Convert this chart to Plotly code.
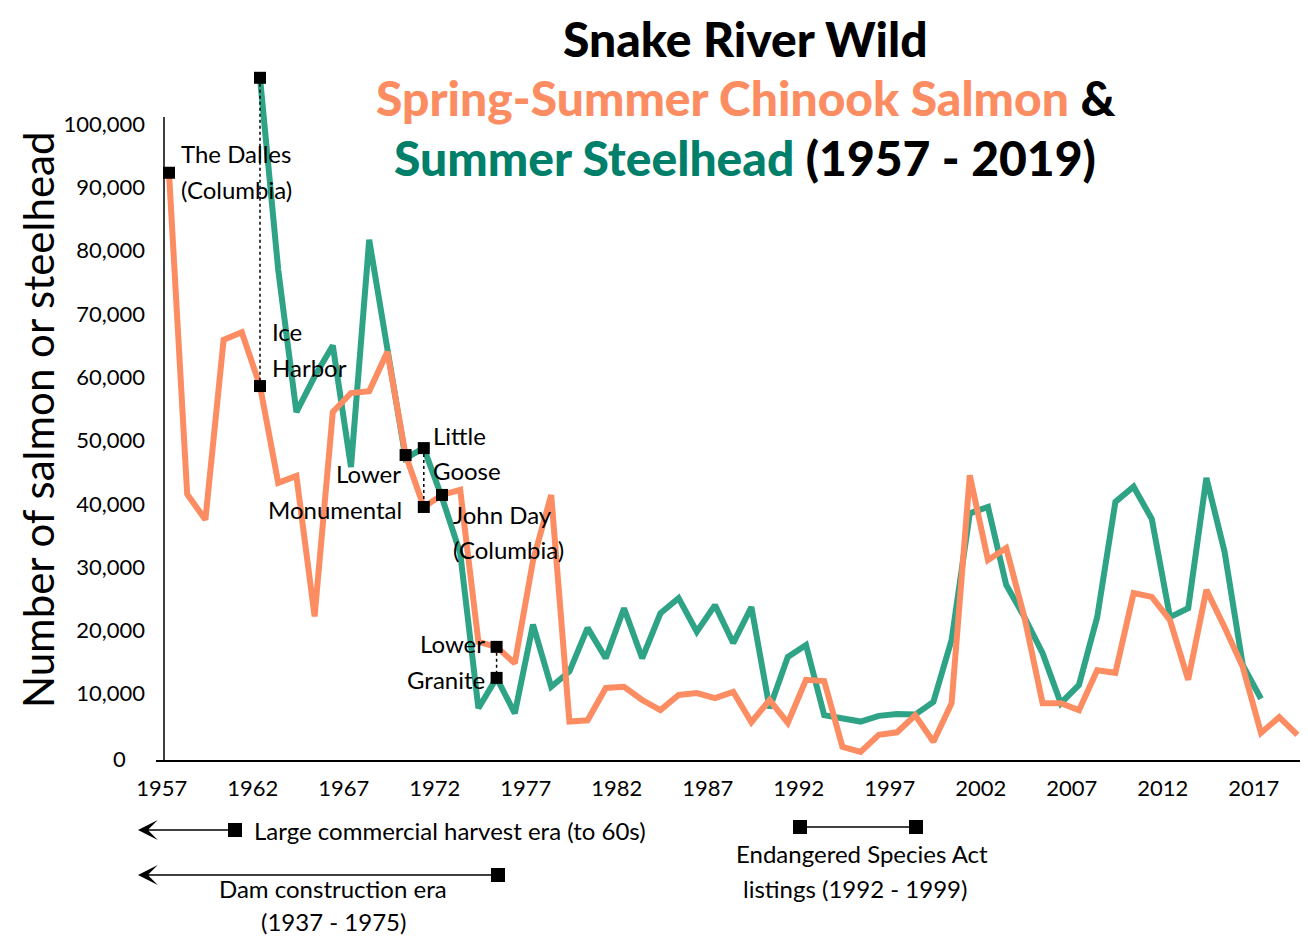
import plotly.graph_objects as go

# ---------------- data ----------------
chinook_years = list(range(1957, 2020))
chinook = [92300, 41500, 37500, 65900, 67100, 58600, 43300, 44400, 22200, 54500,
           57500, 57800, 64000, 47700, 39500, 41400, 42200, 18200, 17400, 14800,
           31000, 41400, 5600, 5800, 10900, 11100, 9000, 7400, 9800, 10100,
           9300, 10300, 5500, 9000, 5400, 12200, 12000, 1600, 800, 3500,
           3900, 6600, 2400, 8500, 44500, 31100, 33000, 22100, 8500, 8500,
           7400, 13700, 13300, 25900, 25300, 21600, 12200, 26400, 20500, 14200,
           3800, 6300, 3500]

steelhead_years = list(range(1962, 2018))
steelhead = [107300, 77000, 54500, 60100, 65000, 45800, 81700, 65000, 47200, 48800,
             41000, 32200, 7700, 12500, 6900, 20900, 11100, 13500, 20400, 15600,
             23500, 15600, 22700, 25100, 19800, 24000, 18000, 23700, 7700, 15800,
             17700, 6600, 6200, 5600, 6500, 6800, 6700, 8700, 18500, 38500,
             39500, 27200, 22100, 16400, 8500, 11400, 22100, 40300, 42700, 37600,
             22100, 23500, 44100, 32400, 14500, 9200]

x_tick_years = list(range(1957, 2018, 5))
y_tick_vals = list(range(10000, 100001, 10000))

# dam markers
dams_single = [("chinook", 1957), ("chinook", 1970), ("chinook", 1972)]
dams_pairs = [(1962, "steelhead", "chinook"), (1971, "steelhead", "chinook"),
              (1975, "chinook", "steelhead")]

ORANGE = "#fc8d62"
GREEN_LINE = "#2ea386"
GREEN_TITLE = "#00806a"
FONT = "Lato"

series = {"chinook": dict(zip(chinook_years, chinook)),
          "steelhead": dict(zip(steelhead_years, steelhead))}

# ---------------- geometry (screen pixels; page body has an 8px margin) ----------------
OFF = 8
WF, HF = 1300, 928                    # figure size
SL, SR, ST, SB = 156, 1308, 60, 760   # plot area in screen px
X0_PX, X_PER_YEAR = 169.0, 18.2       # 1957 data position, px per year
Y0_PX, Y_PER_UNIT = 757.0, 6.33 / 1000.0


def px2x(px):
    return 1957 + (px - X0_PX) / X_PER_YEAR


def px2y(py):
    return (Y0_PX - py) / Y_PER_UNIT


def ppx(px):
    return (px - SL) / (SR - SL)


def ppy(py):
    return (SB - py) / (SB - ST)


x_range = [px2x(SL), px2x(SR)]
y_range = [px2y(SB), px2y(ST)]

fig = go.Figure()

fig.add_trace(go.Scatter(x=steelhead_years, y=steelhead, mode="lines",
                         line=dict(color=GREEN_LINE, width=6),
                         hoverinfo="skip", cliponaxis=False))
fig.add_trace(go.Scatter(x=chinook_years, y=chinook, mode="lines",
                         line=dict(color=ORANGE, width=6),
                         hoverinfo="skip", cliponaxis=False))

mx, my = [], []
for yr, top, bot in dams_pairs:
    y1, y2 = series[top][yr], series[bot][yr]
    fig.add_shape(type="line", x0=yr, x1=yr, y0=y1, y1=y2, xref="x", yref="y",
                  line=dict(color="black", width=1.5, dash="dot"))
    mx += [yr, yr]
    my += [y1, y2]
for s, yr in dams_single:
    mx.append(yr)
    my.append(series[s][yr])

fig.add_trace(go.Scatter(x=mx, y=my, mode="markers",
                         marker=dict(symbol="square", size=12, color="black"),
                         hoverinfo="skip", cliponaxis=False))

# y axis line (up to ~101k)
fig.add_shape(type="line", xref="x", yref="y", x0=px2x(164), x1=px2x(164),
              y0=y_range[0], y1=px2y(117), line=dict(color="black", width=1.5))

annotations = []
AS = 24


def txt(text, px, py, anchor="left", size=AS):
    annotations.append(dict(text=text, x=px2x(px), y=px2y(py), xref="x", yref="y",
                            xanchor=anchor, yanchor="middle", showarrow=False,
                            font=dict(family=FONT, size=size, color="black")))


txt("The Dalles", 179, 153)
txt("(Columbia)", 179, 189)
txt("Ice", 270, 331)
txt("Harbor", 270, 367)
txt("Lower", 403, 473, "right")
txt("Monumental", 404, 509, "right")
txt("Little", 431, 435)
txt("Goose", 431, 470)
txt("John Day", 451, 514)
txt("(Columbia)", 451, 549)
txt("Lower", 487, 643, "right")
txt("Granite", 487, 679, "right")


def ptxt(text, px, py, anchor="left", size=AS):
    annotations.append(dict(text=text, x=ppx(px), y=ppy(py), xref="paper", yref="paper",
                            xanchor=anchor, yanchor="middle", showarrow=False,
                            font=dict(family=FONT, size=size, color="black")))


def arrow(head_px, tail_px, py):
    annotations.append(dict(text="", x=ppx(head_px), y=ppy(py), xref="paper", yref="paper",
                            ax=tail_px - head_px, ay=0, showarrow=True, arrowhead=3,
                            arrowsize=2.2, arrowwidth=1.5, arrowcolor="black"))


def psquare(px, py, s=14):
    fig.add_shape(type="rect", xref="paper", yref="paper",
                  x0=ppx(px - s / 2), x1=ppx(px + s / 2), y0=ppy(py + s / 2), y1=ppy(py - s / 2),
                  fillcolor="black", line=dict(width=0))


arrow(138, 235, 830)
psquare(235, 830)
ptxt("Large commercial harvest era (to 60s)", 252, 830)

arrow(138, 498, 875)
psquare(498, 875)
ptxt("Dam construction era", 333, 889, "center")
ptxt("(1937 - 1975)", 333, 922, "center")

fig.add_shape(type="line", xref="paper", yref="paper", x0=ppx(800), x1=ppx(916),
              y0=ppy(827), y1=ppy(827), line=dict(color="black", width=1.5))
psquare(800, 827)
psquare(916, 827)
ptxt("Endangered Species Act", 862, 853, "center")
ptxt("listings (1992 - 1999)", 855, 888, "center")

# zero label (sits left of the others in the reference)
ptxt("0", 119, 758, "center", 22)

# y axis title
annotations.append(dict(text="Number of salmon or steelhead", x=ppx(38), y=ppy(420),
                        xref="paper", yref="paper", textangle=-90, showarrow=False,
                        xanchor="center", yanchor="middle",
                        font=dict(family=FONT, size=42, color="black")))

# title lines
TF = dict(family=FONT, size=48, color="black", weight=900)
annotations.append(dict(text="Snake River Wild", x=ppx(745), y=ppy(38),
                        xref="paper", yref="paper", showarrow=False,
                        xanchor="center", yanchor="middle", font=TF))
annotations.append(dict(text=f'<span style="color:{ORANGE}">Spring-Summer Chinook Salmon</span> &amp;',
                        x=ppx(745), y=ppy(98), xref="paper", yref="paper", showarrow=False,
                        xanchor="center", yanchor="middle", font=TF))
annotations.append(dict(text=f'<span style="color:{GREEN_TITLE}">Summer Steelhead</span> (1957 - 2019)',
                        x=ppx(745), y=ppy(157), xref="paper", yref="paper", showarrow=False,
                        xanchor="center", yanchor="middle", font=TF))

fig.update_layout(
    width=WF, height=HF,
    margin=dict(l=SL - OFF, r=OFF + WF - SR, t=ST - OFF, b=OFF + HF - SB, autoexpand=False),
    paper_bgcolor="white", plot_bgcolor="white",
    showlegend=False,
    annotations=annotations,
    xaxis=dict(range=x_range, showgrid=False, zeroline=False,
               showline=True, linecolor="black", linewidth=1.5,
               tickvals=[y - 0.4 for y in x_tick_years],
               ticktext=[str(y) for y in x_tick_years],
               ticks="", ticklabelstandoff=8,
               tickfont=dict(family=FONT, size=22, color="black")),
    yaxis=dict(range=y_range, showgrid=False, zeroline=False, showline=False,
               tickvals=y_tick_vals, tickformat=",", ticks="",
               ticklabelstandoff=10,
               tickfont=dict(family=FONT, size=22, color="black")),
)

fig.write_html("out.html")
